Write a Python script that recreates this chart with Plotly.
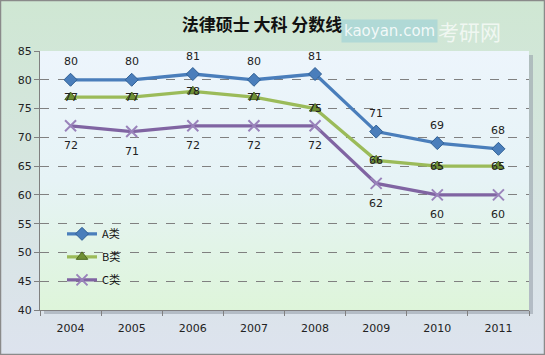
import base64
import plotly.graph_objects as go

years = ["2004", "2005", "2006", "2007", "2008", "2009", "2010", "2011"]
a_vals = [80, 80, 81, 80, 81, 71, 69, 68]
b_vals = [77, 77, 78, 77, 75, 66, 65, 65]
c_vals = [72, 71, 72, 72, 72, 62, 60, 60]
series_names = ["A类", "B类", "C类"]

W, H = 545, 355
ML, MR, MT, MB = 40, 16, 51, 45
PW, PH = W - ML - MR, H - MT - MB


def svg_uri(svg):
    return "data:image/svg+xml;base64," + base64.b64encode(svg.encode()).decode()


outer_svg = f'''<svg xmlns="http://www.w3.org/2000/svg" width="{W}" height="{H}" preserveAspectRatio="none">
<defs><linearGradient id="g" x1="0" y1="0" x2="0" y2="1">
<stop offset="0" stop-color="#cfe7d3"/><stop offset="1" stop-color="#dde3ee"/></linearGradient></defs>
<rect x="0.5" y="0.5" width="{W-1}" height="{H-1}" fill="url(#g)" stroke="#8a8a8a" stroke-width="1.5"/>
</svg>'''

inner_svg = f'''<svg xmlns="http://www.w3.org/2000/svg" width="{PW}" height="{PH}" preserveAspectRatio="none">
<defs><linearGradient id="g" x1="0" y1="0" x2="0" y2="1">
<stop offset="0" stop-color="#edf5fc"/><stop offset="0.5" stop-color="#e6f3f6"/><stop offset="1" stop-color="#def5da"/></linearGradient></defs>
<rect x="0" y="0" width="{PW}" height="{PH}" fill="url(#g)"/>
</svg>'''

shadow_svg = f'''<svg xmlns="http://www.w3.org/2000/svg" width="{PW}" height="{PH}" preserveAspectRatio="none">
<rect x="0" y="0" width="{PW}" height="{PH}" fill="#9aa3ad"/>
</svg>'''

fig = go.Figure()

styles = [
    (a_vals, "#4a7ebb", dict(symbol="diamond", size=10, color="#4a7ebb", line=dict(color="#2f5f94", width=1)), 18),
    (b_vals, "#9bbb59", dict(symbol="triangle-up", size=10, color="#6f8f35", line=dict(color="#4f6a20", width=1)), 0),
    (c_vals, "#8064a2", dict(symbol="x-thin", size=11, color="#8064a2", line=dict(color="#9a83bb", width=2)), -20),
]
annotations = []
for name, (vals, col, mk, shift) in zip(series_names, styles):
    fig.add_trace(go.Scatter(
        x=years, y=vals, name=name, legendgroup=name, mode="lines+markers",
        line=dict(color=col, width=3.3), marker=mk,
    ))
    for i, v in enumerate(vals):
        annotations.append(dict(x=i, y=v, text=str(v), showarrow=False, yshift=shift,
                                xanchor="center", yanchor="middle",
                                font=dict(family="DejaVu Sans", size=11, color="#222222")))

annotations += [
    dict(text="kaoyan.com", xref="paper", yref="paper", x=(341 - ML) / PW, y=(H - MB - 31) / PH,
         xanchor="left", yanchor="middle", showarrow=False,
         font=dict(family="DejaVu Sans", size=15, color="rgba(255,255,255,0.85)"),
         bgcolor="rgba(150,205,215,0.55)", borderpad=2),
    dict(text="考研网", xref="paper", yref="paper", x=(436 - ML) / PW, y=(H - MB - 31) / PH,
         xanchor="left", yanchor="middle", showarrow=False,
         font=dict(family="Noto Sans CJK SC", size=21, color="rgba(255,255,255,0.7)")),
]

fx0 = -ML / PW
fy0 = -MB / PH
fig.update_layout(
    width=W, height=H,
    margin=dict(l=ML, r=MR, t=MT, b=MB),
    paper_bgcolor="rgba(0,0,0,0)", plot_bgcolor="rgba(0,0,0,0)",
    title=dict(text="<b>法律硕士 大科 分数线</b>", x=262 / W, xanchor="center", y=1 - 25 / H, yanchor="middle",
               font=dict(family="Noto Sans CJK SC", size=17, color="#111111")),
    showlegend=True,
    legend=dict(x=0.045, y=0.35, xanchor="left", yanchor="top", bgcolor="rgba(0,0,0,0)",
                font=dict(family="Noto Sans CJK SC", size=11, color="#111111"),
                itemwidth=30, tracegroupgap=4),
    images=[
        dict(source=svg_uri(outer_svg), xref="paper", yref="paper", x=fx0, y=fy0 + H / PH,
             sizex=W / PW, sizey=H / PH, xanchor="left", yanchor="top", sizing="stretch", layer="below"),
        dict(source=svg_uri(shadow_svg), xref="paper", yref="paper", x=4 / PW, y=1 - 4 / PH,
             sizex=1, sizey=1, xanchor="left", yanchor="top", sizing="stretch", layer="below", opacity=0.6),
        dict(source=svg_uri(inner_svg), xref="paper", yref="paper", x=0, y=1,
             sizex=1, sizey=1, xanchor="left", yanchor="top", sizing="stretch", layer="below"),
    ],
    xaxis=dict(type="category", range=[-0.5, len(years) - 0.5], tickson="boundaries", ticks="outside",
               ticklen=5, tickcolor="#808080",
               showline=True, linecolor="#808080", linewidth=1, showgrid=False, ticklabelstandoff=8,
               tickfont=dict(family="DejaVu Sans", size=11, color="#222222"), fixedrange=True),
    yaxis=dict(range=[40, 85], dtick=5, ticks="outside", ticklen=5, tickcolor="#808080",
               showline=True, linecolor="#808080", linewidth=1, zeroline=False,
               showgrid=True, gridcolor="#808080", griddash="dash", gridwidth=1,
               tickfont=dict(family="DejaVu Sans", size=11, color="#222222"), fixedrange=True),
    annotations=annotations,
)

fig.write_html("out.html", config={"displayModeBar": False},
               post_script="document.body.style.margin='0px';document.body.style.overflow='hidden';")
